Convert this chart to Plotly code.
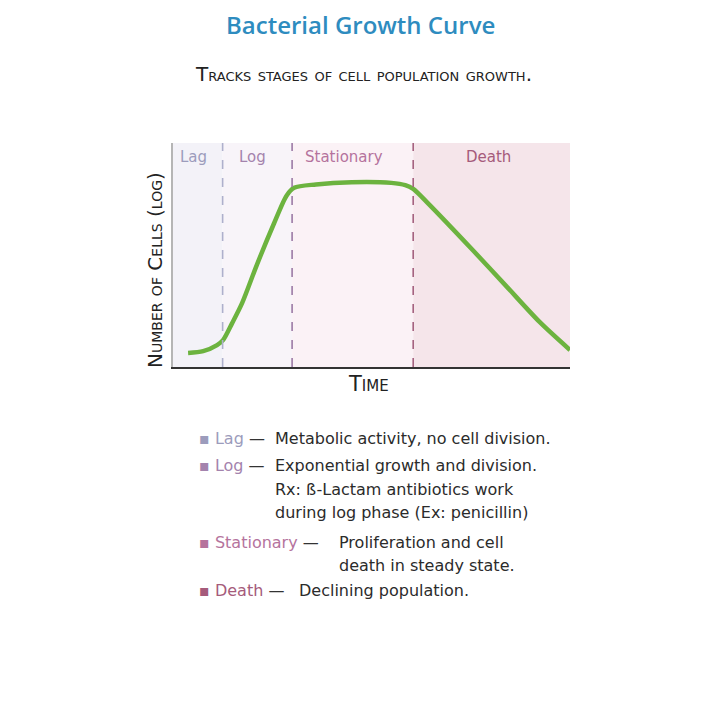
import plotly.graph_objects as go

# phases (time units along the x axis)
phase_names = ["Lag", "Log", "Stationary", "Death"]
phase_edges = [0, 1.25, 3.0, 6.05, 10]
phase_fill = ["#f3f2f8", "#f8f4f9", "#fbf2f6", "#f5e5ea"]
phase_text = ["#9c9cbc", "#a483ad", "#b5739d", "#a55b7b"]
divider_color = ["#aeb0cc", "#9c7aa6", "#a5627f"]

# growth curve
time = [0.38, 0.76, 1.11, 1.26, 1.49, 1.74, 2.11, 2.53, 2.86, 3.05, 3.6, 4.5,
        5.5, 5.85, 6.05, 6.4, 7.56, 8.4, 9.24, 10]
cells = [0.63, 0.71, 0.98, 1.2, 1.96, 2.85, 4.55, 6.35, 7.65, 8.0, 8.15, 8.25,
         8.22, 8.12, 7.95, 7.35, 5.2, 3.6, 2.0, 0.76]

notes = [
    ["Metabolic activity, no cell division."],
    ["Exponential growth and division.", "Rx: ß-Lactam antibiotics work",
     "during log phase (Ex: penicillin)"],
    ["Proliferation and cell", "death in steady state."],
    ["Declining population."],
]

W = 720
OFF = 8  # page body margin
L, R, T, B = 173, 570, 143, 367


def px(xp, yp):
    return (xp - L) / (R - L), (B - yp) / (B - T)


def smallcaps(s, big, small):
    out = ""
    for ch in s:
        if ch.islower():
            out += '<span style="font-size:%dpx">%s</span>' % (small, ch.upper())
        else:
            out += ch
    return '<span style="font-size:%dpx">%s</span>' % (big, out)


fig = go.Figure()

shapes = []
for i in range(4):
    shapes.append(dict(type="rect", xref="x", yref="paper", x0=phase_edges[i],
                       x1=phase_edges[i + 1], y0=0, y1=1, line_width=0,
                       fillcolor=phase_fill[i], layer="below"))
for i in range(3):
    shapes.append(dict(type="line", xref="x", yref="paper", x0=phase_edges[i + 1],
                       x1=phase_edges[i + 1], y0=0, y1=1,
                       line=dict(color=divider_color[i], width=1.6, dash="dash")))

fig.add_trace(go.Scatter(x=time, y=cells, mode="lines",
                         line=dict(color="#6cb33f", width=4.5, shape="spline",
                                   smoothing=0.8),
                         hoverinfo="skip", showlegend=False))

body = "DejaVu Sans, sans-serif"
ann = []
label_shift = [-4, -5, -9, -3]
for i, name in enumerate(phase_names):
    ann.append(dict(x=(phase_edges[i] + phase_edges[i + 1]) / 2, y=px(0, 157)[1],
                    xref="x", yref="paper", text=name, showarrow=False,
                    xanchor="center", yanchor="middle", xshift=label_shift[i],
                    font=dict(family=body, size=15, color=phase_text[i])))

cond = "DejaVu Sans, sans-serif"
x0, y0 = px(360, 24)
ann.append(dict(x=x0, y=y0, xref="paper", yref="paper", showarrow=False,
                xanchor="center", yanchor="middle",
                text="Bacterial Growth Curve",
                font=dict(family="Open Sans", size=24, weight=600, color="#2e8cbf")))
x0, y0 = px(363, 74)
ann.append(dict(x=x0, y=y0, xref="paper", yref="paper", showarrow=False,
                xanchor="center", yanchor="middle",
                text=smallcaps("Tracks stages of cell population growth.", 20, 13),
                font=dict(family=cond, color="#222222")))
x0, y0 = px(368, 384)
ann.append(dict(x=x0, y=y0, xref="paper", yref="paper", showarrow=False,
                xanchor="center", yanchor="middle",
                text=smallcaps("Time", 21, 15),
                font=dict(family=cond, color="#222222")))
x0, y0 = px(155, 270)
ann.append(dict(x=x0, y=y0, xref="paper", yref="paper", showarrow=False,
                xanchor="center", yanchor="middle", textangle=-90,
                text=smallcaps("Number of Cells (log)", 20, 14),
                font=dict(family=cond, color="#222222")))

row_y = [[438], [465, 489, 512], [542, 565], [590]]
desc_x = [273, 273, 337, 297]
for i, name in enumerate(phase_names):
    xh, yh = px(197, row_y[i][0])
    ann.append(dict(x=xh, y=yh, xref="paper", yref="paper", showarrow=False,
                    xanchor="left", yanchor="middle",
                    text='<span style="color:%s">▪ %s</span> —' % (phase_text[i], name),
                    font=dict(family=body, size=16, color="#333333")))
    for j, line in enumerate(notes[i]):
        xd, yd = px(desc_x[i], row_y[i][j])
        ann.append(dict(x=xd, y=yd, xref="paper", yref="paper", showarrow=False,
                        xanchor="left", yanchor="middle", text=line,
                        font=dict(family=body, size=16, color="#2b2b2b")))

fig.update_layout(
    width=W - OFF, height=W - OFF,
    margin=dict(l=L - OFF, r=W - R, t=T - OFF, b=W - B),
    paper_bgcolor="white", plot_bgcolor="white",
    shapes=shapes, annotations=ann,
    xaxis=dict(range=[phase_edges[0], phase_edges[-1]], showgrid=False,
               zeroline=False, showticklabels=False, ticks="",
               showline=True, linecolor="#333333", linewidth=2),
    yaxis=dict(range=[0, 10], showgrid=False, zeroline=False,
               showticklabels=False, ticks="", showline=True,
               linecolor="#b5b5b5", linewidth=1.5),
)

fig.write_html("out.html")
